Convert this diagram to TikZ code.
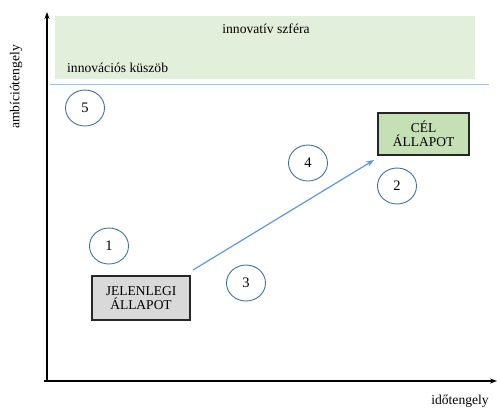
\documentclass[tikz,border=0pt]{standalone}
\usepackage{fontspec}
\setmainfont{Liberation Serif}
\usetikzlibrary{arrows.meta,shapes.geometric}
\definecolor{bandgreen}{HTML}{E2EFDA}
\definecolor{celgreen}{HTML}{C5E0B4}
\definecolor{jelgray}{HTML}{D9D9D9}
\definecolor{lineblue}{HTML}{9DC3E6}
\definecolor{arrowblue}{HTML}{5B9BD5}
\definecolor{circblue}{HTML}{41719C}
\begin{document}
\begin{tikzpicture}[x=1pt,y=-1pt,
  lbl/.style={font=\fontsize{13.6}{15}\selectfont, inner sep=0pt},
  num/.style={draw=circblue, line width=0.9pt, ellipse, minimum width=39pt, minimum height=36pt, inner sep=0pt, font=\fontsize{14.5}{16}\selectfont},
  statebox/.style={draw=black!85, line width=1.1pt, align=center, inner sep=0pt, font=\fontsize{13.5}{14.5}\selectfont},
  axis/.style={line width=1.4pt, -{Stealth[length=7pt,width=5pt]}}]
\useasboundingbox (0,0) rectangle (497,413);
% band
\fill[bandgreen] (55,16) rectangle (475,79);
\node[lbl] (sfera) at (266,29) {innovatív szféra};
\node[lbl, anchor=west] (kuszob) at (67,68) {innovációs küszöb};
\coordinate (tl) at (50,84);
\coordinate (tr) at (489,84);
\draw[lineblue, line width=1pt] (tl) -- (tr);
% axes
\coordinate (o) at (47,382);
\coordinate (ytop) at (47,12);
\coordinate (x0) at (44,381);
\coordinate (xend) at (497,381);
\draw[axis] (o) -- (ytop);
\draw[axis] (x0) -- (xend);
\node[lbl, rotate=90] (ylab) at (16,87) {ambíciótengely};
\node[lbl] (xlab) at (460,401) {időtengely};
% circles
\node[num] (c5) at (85,108) {5};
\node[num] (c1) at (109,246) {1};
\node[num] (c3) at (246,283) {3};
\node[num] (c4) at (308,163) {4};
\node[num] (c2) at (397,186) {2};
% boxes
\node[statebox, fill=jelgray, minimum width=98pt, minimum height=44pt] (jel) at (141,298) {JELENLEGI\\ÁLLAPOT};
\node[statebox, fill=celgreen, minimum width=91pt, minimum height=42pt] (cel) at (423.5,134) {CÉL\\ÁLLAPOT};
\coordinate (as) at (193,270);
\coordinate (ae) at (374,160);
\draw[arrowblue, line width=1.2pt, -{Stealth[length=8pt,width=6pt]}] (as) -- (ae);
\end{tikzpicture}
\end{document}
